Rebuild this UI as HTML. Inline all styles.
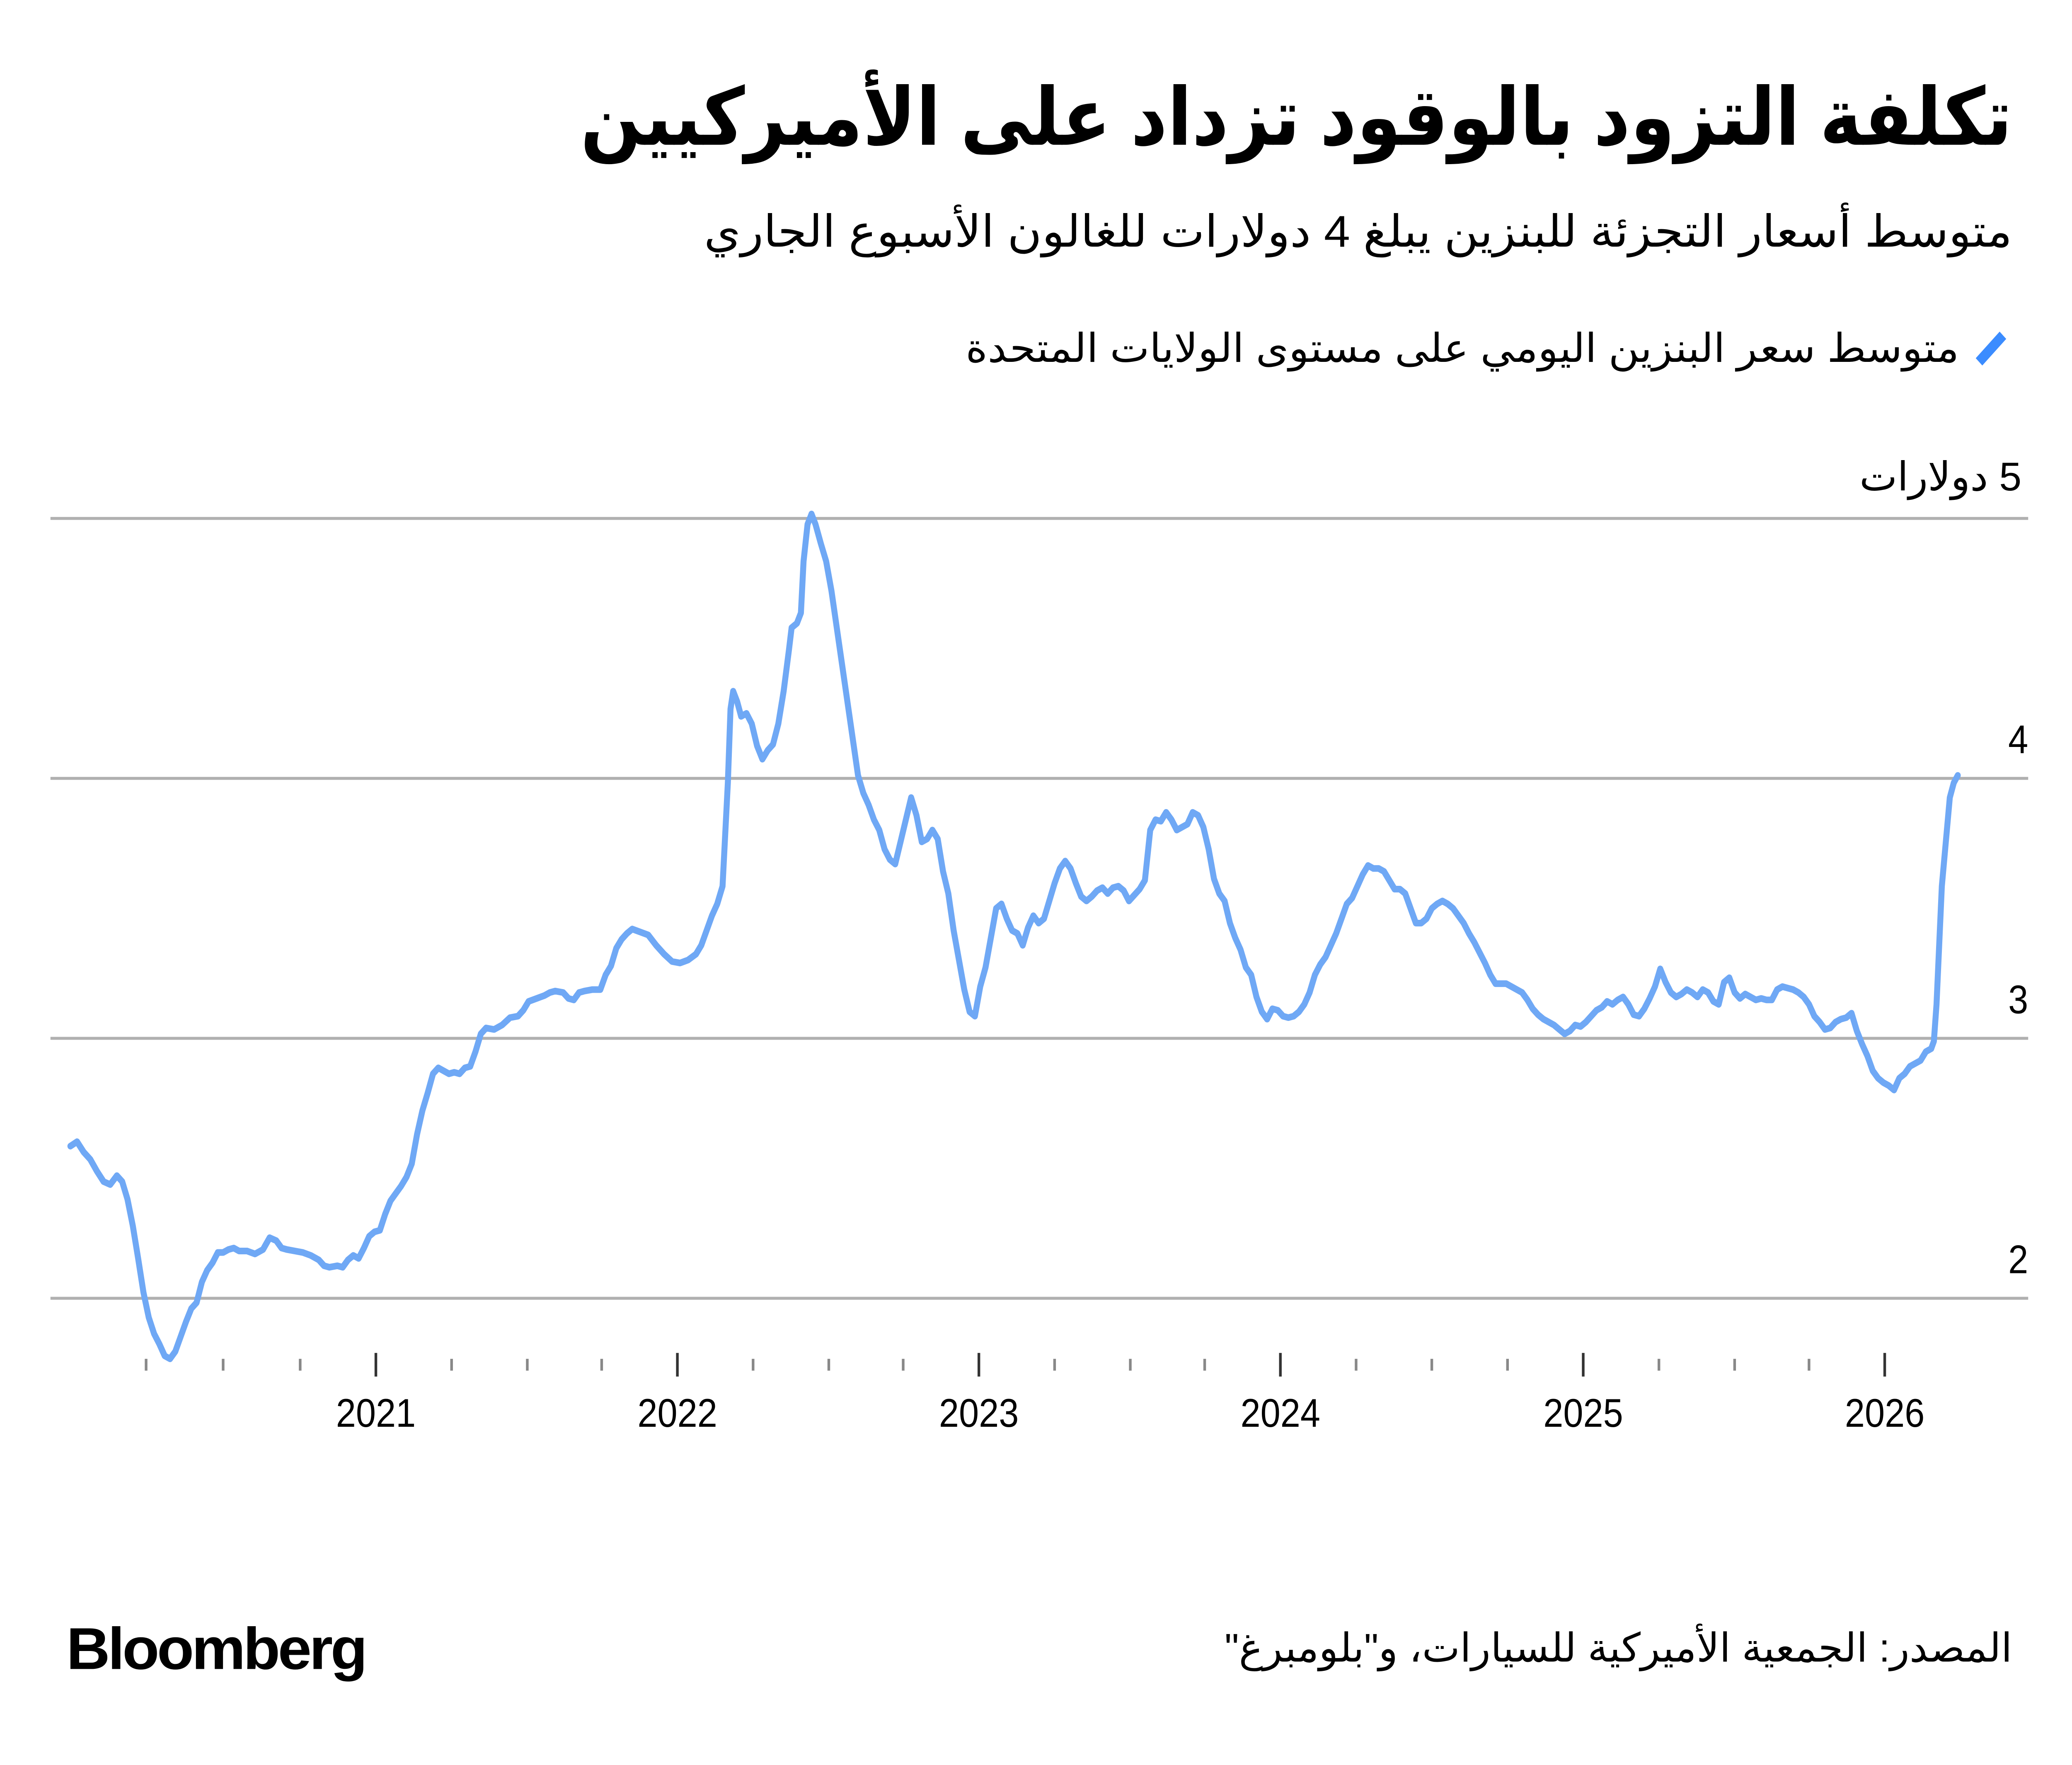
<!DOCTYPE html>
<html><head><meta charset="utf-8"><style>
html,body{margin:0;padding:0;background:#fff;width:100%;height:100%;overflow:hidden;}
svg{display:block;width:100vw;height:100vh;}
</style></head><body>
<svg viewBox="0 0 1560 1195" preserveAspectRatio="none" xmlns="http://www.w3.org/2000/svg">
<rect width="1560" height="1195" fill="#fff"/>
<g font-family="'Liberation Sans','DejaVu Sans','Noto Sans CJK SC',sans-serif" direction="rtl">
<text x="1515" y="98" text-anchor="start" font-size="54" font-weight="bold" fill="#000" textLength="1078" lengthAdjust="spacingAndGlyphs">تكلفة التزود بالوقود تزداد على الأميركيين</text>
<text x="1515" y="167" text-anchor="start" font-size="30" fill="#000" textLength="985" lengthAdjust="spacingAndGlyphs">متوسط أسعار التجزئة للبنزين يبلغ 4 دولارات للغالون الأسبوع الجاري</text>
<text x="1475" y="245" text-anchor="start" font-size="27" fill="#000" textLength="748" lengthAdjust="spacingAndGlyphs">متوسط سعر البنزين اليومي على مستوى الولايات المتحدة</text>
<text x="1522" y="332" text-anchor="start" font-size="27" fill="#000" textLength="122" lengthAdjust="spacingAndGlyphs">5 دولارات</text>
<text x="1515" y="1125" text-anchor="start" font-size="27" fill="#000" textLength="593" lengthAdjust="spacingAndGlyphs">المصدر: الجمعية الأميركية للسيارات، و"بلومبرغ"</text>
</g>
<line x1="1490" y1="245" x2="1508" y2="227" stroke="#3b8cff" stroke-width="7"/>
<g stroke="#b0b0b0" stroke-width="2">
<line x1="38" y1="351" x2="1527" y2="351"/>
<line x1="38" y1="527" x2="1527" y2="527"/>
<line x1="38" y1="703" x2="1527" y2="703"/>
<line x1="38" y1="879" x2="1527" y2="879"/>
</g>
<g font-family="'Liberation Sans',sans-serif" font-size="27" fill="#000" text-anchor="end">
<text x="1527" y="510">4</text>
<text x="1527" y="686">3</text>
<text x="1527" y="862">2</text>
</g>
<g stroke="#888" stroke-width="2">
<line x1="110" y1="920" x2="110" y2="928"/><line x1="168" y1="920" x2="168" y2="928"/><line x1="226" y1="920" x2="226" y2="928"/>
<line x1="283" y1="916" x2="283" y2="932" stroke="#333"/>
<line x1="340" y1="920" x2="340" y2="928"/><line x1="397" y1="920" x2="397" y2="928"/><line x1="453" y1="920" x2="453" y2="928"/>
<line x1="510" y1="916" x2="510" y2="932" stroke="#333"/>
<line x1="567" y1="920" x2="567" y2="928"/><line x1="624" y1="920" x2="624" y2="928"/><line x1="680" y1="920" x2="680" y2="928"/>
<line x1="737" y1="916" x2="737" y2="932" stroke="#333"/>
<line x1="794" y1="920" x2="794" y2="928"/><line x1="851" y1="920" x2="851" y2="928"/><line x1="907" y1="920" x2="907" y2="928"/>
<line x1="964" y1="916" x2="964" y2="932" stroke="#333"/>
<line x1="1021" y1="920" x2="1021" y2="928"/><line x1="1078" y1="920" x2="1078" y2="928"/><line x1="1135" y1="920" x2="1135" y2="928"/>
<line x1="1192" y1="916" x2="1192" y2="932" stroke="#333"/>
<line x1="1249" y1="920" x2="1249" y2="928"/><line x1="1306" y1="920" x2="1306" y2="928"/><line x1="1362" y1="920" x2="1362" y2="928"/>
<line x1="1419" y1="916" x2="1419" y2="932" stroke="#333"/>
</g>
<g font-family="'Liberation Sans',sans-serif" font-size="27" fill="#000" text-anchor="middle">
<text x="283" y="966">2021</text><text x="510" y="966">2022</text><text x="737" y="966">2023</text>
<text x="964" y="966">2024</text><text x="1192" y="966">2025</text><text x="1419" y="966">2026</text>
</g>
<polyline fill="none" stroke="#6fa8f5" stroke-width="4.5" stroke-linejoin="round" stroke-linecap="round" points="53,776 58,773 63,780 68,785 73,793 78,800 83,802 88,796 92,800 96,812 100,830 104,852 108,875 112,892 116,903 120,910 124,918 128,920 132,915 136,905 140,895 144,886 148,882 152,868 156,860 160,855 164,848 168,848 172,846 176,845 180,847 186,847 192,849 198,846 203,838 208,840 212,845 216,846 222,847 228,848 234,850 240,853 244,857 248,858 254,857 258,858 262,853 266,850 270,852 274,845 278,837 282,834 286,833 290,822 294,813 298,808 302,803 306,797 310,788 314,768 318,752 322,740 326,727 330,723 334,725 338,727 342,726 346,727 350,723 354,722 358,712 362,700 366,696 372,697 378,694 384,689 390,688 394,684 398,678 404,676 410,674 414,672 418,671 424,672 428,676 432,677 436,672 440,671 446,670 452,670 456,660 460,654 464,642 468,636 472,632 476,629 482,631 488,633 494,640 500,646 506,651 512,652 518,650 524,646 528,640 532,630 536,620 540,612 544,600 548,530 550,480 552,468 555,475 558,485 562,483 566,490 570,505 574,514 578,508 582,504 586,490 590,468 594,440 596,425 600,422 603,415 605,380 608,355 611,348 614,355 618,368 622,380 626,400 630,425 634,450 638,475 642,500 646,525 650,537 654,545 658,555 662,562 666,575 670,582 674,585 678,570 682,555 686,540 690,552 694,570 698,568 702,562 706,568 710,590 714,605 718,630 722,650 726,670 730,685 734,688 738,668 742,655 746,635 750,615 754,612 758,622 762,630 766,632 770,640 774,628 778,620 782,625 786,622 790,610 794,598 798,588 802,583 806,588 810,598 814,607 818,610 822,607 826,603 830,601 834,605 838,601 842,600 846,603 850,610 854,606 858,602 862,596 866,562 870,555 874,556 878,550 882,555 886,562 890,560 894,558 898,550 902,552 906,560 910,575 914,595 918,605 922,610 926,625 930,635 934,643 938,655 942,660 946,675 950,685 954,690 958,683 962,684 966,688 970,689 974,688 978,685 982,680 986,672 990,660 994,653 998,648 1002,640 1006,632 1010,622 1014,612 1018,608 1022,600 1026,592 1030,586 1034,588 1038,588 1042,590 1046,596 1050,602 1054,602 1058,605 1062,615 1066,625 1070,625 1074,622 1078,615 1082,612 1086,610 1090,612 1094,615 1098,620 1102,625 1106,632 1110,638 1114,645 1118,652 1122,660 1126,666 1130,666 1134,666 1138,668 1142,670 1146,672 1150,677 1154,683 1158,687 1162,690 1166,692 1170,694 1174,697 1178,700 1182,698 1186,694 1190,695 1194,692 1198,688 1202,684 1206,682 1210,678 1214,680 1218,677 1222,675 1226,680 1230,687 1234,688 1238,683 1242,676 1246,668 1250,656 1254,665 1258,672 1262,675 1266,673 1270,670 1274,672 1278,675 1282,670 1286,672 1290,678 1294,680 1298,665 1302,662 1306,672 1310,676 1314,673 1318,675 1322,677 1326,676 1330,677 1334,677 1338,670 1342,668 1346,669 1350,670 1354,672 1358,675 1362,680 1366,688 1370,692 1374,697 1378,696 1382,692 1386,690 1390,689 1394,686 1398,698 1402,707 1406,715 1410,725 1414,730 1418,733 1422,735 1426,738 1430,730 1434,727 1438,722 1442,720 1446,718 1450,712 1454,710 1456,705 1458,680 1460,640 1462,600 1465,570 1468,540 1471,530 1474,525"/>
<text x="50" y="1130" font-family="'Liberation Sans',sans-serif" font-size="40" font-weight="bold" fill="#000" letter-spacing="-1.5" textLength="225" lengthAdjust="spacingAndGlyphs">Bloomberg</text>
</svg>
</body></html>
